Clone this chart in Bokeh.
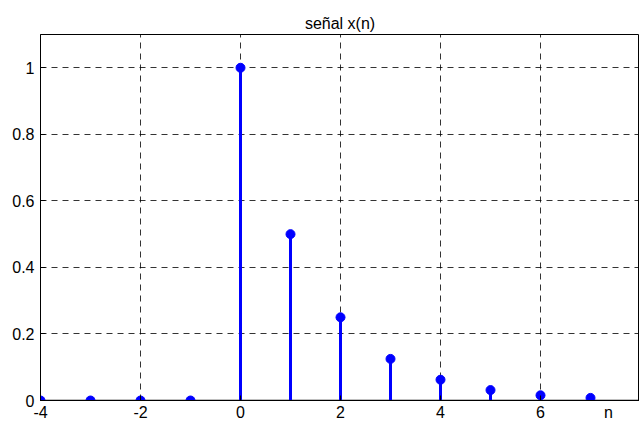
from bokeh.plotting import figure
from bokeh.models import ColumnDataSource, Range1d, FixedTicker
from bokeh.embed import file_html
from bokeh.resources import INLINE

n_vals = [-4, -3, -2, -1, 0, 1, 2, 3, 4, 5, 6, 7]
x_vals = [0, 0, 0, 0, 1.0, 0.5, 0.25, 0.125, 0.0625, 0.03125, 0.015625, 0.0078125]
x_ticks = [-4, -2, 0, 2, 4, 6, 8]
x_tick_labels = ["-4", "-2", "0", "2", "4", "6", "8"]
y_ticks = [0, 0.2, 0.4, 0.6, 0.8, 1.0]
y_tick_labels = ["0", "0.2", "0.4", "0.6", "0.8", "1"]
title_text = "señal x(n)"
xlabel_text = "n"
xlabel_pos = 7.36

FONT = "Liberation Sans"

src = ColumnDataSource(dict(n=n_vals, x=x_vals, base=[0] * len(n_vals)))

p = figure(width=639, height=423, output_backend="svg", toolbar_location=None,
           x_range=Range1d(-4, 7.98), y_range=Range1d(0, 1.1),
           min_border_left=40, min_border_right=0, min_border_top=34, min_border_bottom=21)
p.background_fill_color = "white"
p.border_fill_color = "white"
p.outline_line_color = "black"
p.outline_line_width = 1

p.title.text = title_text
p.title.align = "center"
p.title.text_font = FONT
p.title.text_font_size = "16px"
p.title.text_font_style = "normal"
p.title.text_color = "black"
p.title.offset = 0
p.title.standoff = 6

for ax in (p.xaxis[0], p.yaxis[0]):
    ax.major_tick_in = 5
    ax.major_tick_out = 0
    ax.minor_tick_in = 0
    ax.minor_tick_out = 0
    ax.axis_line_color = "black"
    ax.axis_line_width = 1
    ax.major_tick_line_color = "black"
    ax.minor_tick_line_color = "black"
    ax.major_label_text_font = FONT
    ax.major_label_text_font_size = "16px"
    ax.major_label_text_color = "black"

# x: labels (incl. axis label "n" on the tick row) as major ticks without marks,
# tick marks drawn as minor ticks at the real tick positions
p.xaxis.ticker = FixedTicker(ticks=x_ticks + [xlabel_pos], minor_ticks=x_ticks)
overrides = {t: l for t, l in zip(x_ticks, x_tick_labels)}
overrides[xlabel_pos] = xlabel_text
p.xaxis.major_label_overrides = overrides
p.xaxis.major_tick_in = 0
p.xaxis.minor_tick_in = 5
p.xaxis.major_label_standoff = 3

p.yaxis.ticker = FixedTicker(ticks=y_ticks)
p.yaxis.major_label_overrides = {t: l for t, l in zip(y_ticks, y_tick_labels)}
p.yaxis.major_label_standoff = 6

p.xgrid.ticker = FixedTicker(ticks=x_ticks)
for g in (p.xgrid[0], p.ygrid[0]):
    g.grid_line_color = "black"
    g.grid_line_dash = "6 5"
    g.grid_line_width = 1
    g.grid_line_alpha = 0.8

# baseline
p.line(x=[-4, 8], y=[0, 0], line_color="black", line_width=1.5)

p.segment(x0="n", y0="base", x1="n", y1="x", source=src, line_color="#0000ff", line_width=3)
p.scatter(x="n", y="x", source=src, size=9, fill_color="#0000ff", line_color="#0000ff")

open("out.html", "w").write(file_html(p, INLINE))
